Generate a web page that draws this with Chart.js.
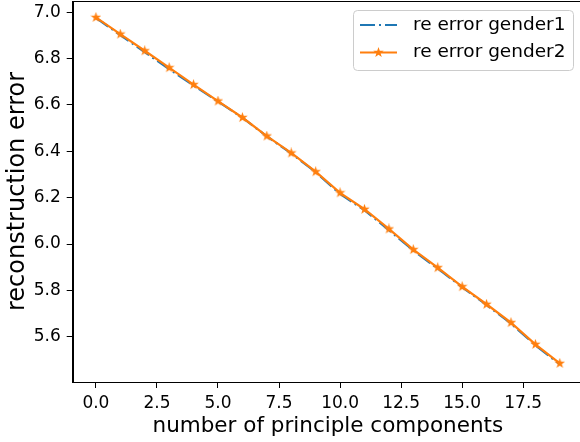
<!DOCTYPE html>
<html>
<head>
<meta charset="utf-8">
<script src="https://cdn.jsdelivr.net/npm/chart.js@4.4.1/dist/chart.umd.min.js"></script>
<style>
  html, body { margin: 0; padding: 0; background: #fff; overflow: hidden; }
  #wrap { width: 600px; height: 442px; }
</style>
</head>
<body>
<div id="wrap"><canvas id="lineChart"></canvas></div>
<script>
// principal component counts
const components = [0, 1, 2, 3, 4, 5, 6, 7, 8, 9, 10, 11, 12, 13, 14, 15, 16, 17, 18, 19];
const gender1 = [6.976, 6.902, 6.828, 6.755, 6.684, 6.615, 6.545, 6.465, 6.391, 6.310,
                 6.216, 6.146, 6.060, 5.972, 5.894, 5.814, 5.737, 5.657, 5.563, 5.481];
const gender2 = [6.978, 6.906, 6.834, 6.761, 6.688, 6.617, 6.546, 6.466, 6.393, 6.312,
                 6.221, 6.150, 6.065, 5.976, 5.898, 5.816, 5.740, 5.661, 5.567, 5.485];
const xTicks = [0, 2.5, 5, 7.5, 10, 12.5, 15, 17.5];
const yTicks = [5.6, 5.8, 6.0, 6.2, 6.4, 6.6, 6.8, 7.0];
const seriesNames = ['re error gender1', 're error gender2'];

const BLUE = '#1f77b4';
const ORANGE = '#ff7f0e';
const FONT = 'DejaVu Sans';
const DASHDOT = [15, 4, 2, 4];

function makeStar(size, color) {
  const c = document.createElement('canvas');
  c.width = size; c.height = size;
  const g = c.getContext('2d');
  const r = size / 2, ri = r * 0.4;
  g.beginPath();
  for (let i = 0; i < 10; i++) {
    const rad = i % 2 === 0 ? r : ri;
    const a = -Math.PI / 2 + i * Math.PI / 5;
    const px = r + rad * Math.cos(a), py = r + rad * Math.sin(a);
    if (i === 0) g.moveTo(px, py); else g.lineTo(px, py);
  }
  g.closePath();
  g.fillStyle = color;
  g.fill();
  return c;
}
const star = makeStar(11, ORANGE);

const frame = {
  id: 'frame',
  afterDraw(chart) {
    const ctx = chart.ctx, a = chart.chartArea;
    ctx.save();
    ctx.strokeStyle = '#000';
    ctx.lineWidth = 1;
    ctx.strokeRect(Math.round(a.left) + 0.5, Math.round(a.top) + 0.5,
                   Math.round(a.right - a.left), Math.round(a.bottom - a.top));

    // legend like matplotlib
    const bx = 353.5, by = 10.5, bw = 220, bh = 60;
    ctx.beginPath();
    ctx.roundRect(bx, by, bw, bh, 4);
    ctx.fillStyle = 'rgba(255,255,255,0.8)';
    ctx.fill();
    ctx.strokeStyle = '#cccccc';
    ctx.stroke();

    const rows = [25, 52.5];
    ctx.lineWidth = 2.2;
    ctx.strokeStyle = BLUE;
    ctx.setLineDash(DASHDOT);
    ctx.beginPath(); ctx.moveTo(360, rows[0]); ctx.lineTo(397, rows[0]); ctx.stroke();
    ctx.setLineDash([]);
    ctx.strokeStyle = ORANGE;
    ctx.beginPath(); ctx.moveTo(360, rows[1]); ctx.lineTo(397, rows[1]); ctx.stroke();
    ctx.drawImage(star, 378.5 - 5.5, rows[1] - 5.5);

    ctx.fillStyle = '#000';
    ctx.font = '18.5px "' + FONT + '"';
    ctx.textBaseline = 'middle';
    ctx.textAlign = 'left';
    ctx.fillText(seriesNames[0], 413, rows[0]);
    ctx.fillText(seriesNames[1], 413, rows[1]);
    ctx.restore();
  }
};

const data = {
  datasets: [
    {
      label: seriesNames[0],
      data: components.map((x, i) => ({x: x, y: gender1[i]})),
      borderColor: BLUE,
      borderWidth: 2.2,
      borderDash: DASHDOT,
      pointRadius: 0,
      fill: false,
      order: 1
    },
    {
      label: seriesNames[1],
      data: components.map((x, i) => ({x: x, y: gender2[i]})),
      borderColor: ORANGE,
      backgroundColor: ORANGE,
      borderWidth: 2.2,
      pointStyle: star,
      pointRadius: 5,
      fill: false,
      order: 0
    }
  ]
};

const config = {
  type: 'line',
  data: data,
  plugins: [frame],
  options: {
    responsive: true,
    maintainAspectRatio: false,
    animation: false,
    layout: { autoPadding: false, padding: { left: 0, right: 17, top: 1, bottom: 0 } },
    plugins: { legend: { display: false }, tooltip: { enabled: false } },
    scales: {
      x: {
        type: 'linear',
        min: -0.95,
        max: 19.95,
        afterBuildTicks: s => { s.ticks = xTicks.map(v => ({value: v})); },
        afterFit: s => { s.height = 60; s.paddingLeft = 0; s.paddingRight = 0; },
        ticks: {
          callback: v => v.toFixed(1),
          font: { family: FONT, size: 17 },
          color: '#000',
          padding: 5,
          maxRotation: 0,
          autoSkip: false
        },
        grid: { drawOnChartArea: false, drawTicks: true, tickLength: 6, color: '#000', tickColor: '#000' },
        border: { display: true, color: '#000' },
        title: {
          display: true,
          text: 'number of principle components',
          font: { family: FONT, size: 21.5 },
          color: '#000',
          padding: { top: 0, bottom: 3 }
        }
      },
      y: {
        min: 5.4045,
        max: 7.0488,
        afterBuildTicks: s => { s.ticks = yTicks.map(v => ({value: v})); },
        afterFit: s => { s.width = 72.7; s.paddingTop = 0; s.paddingBottom = 0; },
        ticks: {
          callback: v => v.toFixed(1),
          font: { family: FONT, size: 17 },
          color: '#000',
          padding: 6,
          autoSkip: false
        },
        grid: { drawOnChartArea: false, drawTicks: true, tickLength: 6, color: '#000', tickColor: '#000' },
        border: { display: true, color: '#000' },
        title: {
          display: true,
          text: 'reconstruction error',
          font: { family: FONT, size: 24 },
          color: '#000',
          padding: { top: 3, bottom: 0 }
        }
      }
    }
  }
};

new Chart(document.getElementById('lineChart'), config);
</script>
</body>
</html>
